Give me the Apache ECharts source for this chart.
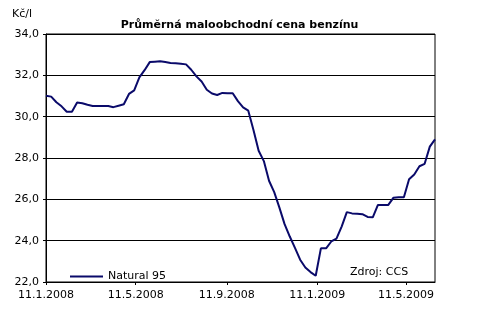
<!DOCTYPE html>
<html><head><meta charset="utf-8">
<script src="https://cdn.jsdelivr.net/npm/echarts@6/dist/echarts.min.js"></script>
<style>html,body{margin:0;padding:0;background:#fff}#c{width:479px;height:314px}</style>
</head><body><div id="c"></div>
<script>
// Weekly series starting 11.1.2008
const startDate = '2008-01-11';
const endDate = '2009-06-19';
const natural95 = [
  31.01, 30.97, 30.70, 30.50, 30.24, 30.24, 30.68, 30.65, 30.58, 30.52,
  30.52, 30.52, 30.52, 30.46, 30.53, 30.60, 31.10, 31.27, 31.90, 32.25,
  32.64, 32.66, 32.68, 32.64, 32.60, 32.58, 32.56, 32.53, 32.27, 31.95,
  31.70, 31.30, 31.12, 31.05, 31.15, 31.13, 31.13, 30.75, 30.45, 30.29,
  29.35, 28.35, 27.85, 26.90, 26.35, 25.60, 24.80, 24.20, 23.65, 23.08,
  22.70, 22.48, 22.30, 23.63, 23.63, 23.96, 24.10, 24.68, 25.38, 25.32,
  25.30, 25.28, 25.15, 25.13, 25.73, 25.73, 25.73, 26.08, 26.10, 26.10,
  26.97, 27.20, 27.60, 27.72, 28.55, 28.90
];
const xTickDates = ['2008-01-11', '2008-05-11', '2008-09-11', '2009-01-11', '2009-05-11'];
const xTickLabels = ['11.1.2008', '11.5.2008', '11.9.2008', '11.1.2009', '11.5.2009'];
const seriesName = 'Natural 95';
const titleText = 'Průměrná maloobchodní cena benzínu';
const unitText = 'Kč/l';
const sourceText = 'Zdroj: CCS';

const DAY = 86400000;
const t0 = Date.parse(startDate + 'T00:00:00Z');
const dayOf = d => Math.round((Date.parse(d + 'T00:00:00Z') - t0) / DAY);
const dEnd = dayOf(endDate);
const data = natural95.map((v, i) => [i * 7, v]);
const tickVals = xTickDates.map(dayOf);
const labelMap = {};
tickVals.forEach((t, i) => labelMap[t] = xTickLabels[i]);

const font = 'DejaVu Sans';
const chart = echarts.init(document.getElementById('c'), null, {renderer: 'canvas'});
chart.setOption({
  animation: false,
  backgroundColor: '#fff',
  title: {
    text: titleText, left: 'center', top: 15,
    textStyle: {fontFamily: font, fontSize: 11, fontWeight: 'bold', color: '#000'}
  },
  graphic: [
    {type: 'text', left: 12, top: 9, style: {text: unitText, fontFamily: font, fontSize: 11, fill: '#000'}},
    {type: 'text', left: 350, top: 267, style: {text: sourceText, fontFamily: font, fontSize: 11, fill: '#000'}}
  ],
  legend: {
    left: 65, top: 266, itemWidth: 33, itemHeight: 10, itemGap: 0,
    data: [{name: seriesName, icon: 'path://M0,4L33,4L33,6L0,6Z'}],
    textStyle: {fontFamily: font, fontSize: 11, color: '#000'}
  },
  grid: {left: 46, top: 34, right: 44, bottom: 32, show: true, borderColor: '#000', borderWidth: 1, backgroundColor: 'transparent'},
  xAxis: {
    type: 'value', min: 0, max: dEnd,
    axisLine: {show: true, onZero: false, lineStyle: {color: '#000', width: 1}},
    axisTick: {show: true, length: 3, lineStyle: {color: '#000'}, customValues: tickVals},
    axisLabel: {
      customValues: tickVals, fontFamily: font, fontSize: 11, color: '#000', margin: 8,
      formatter: v => labelMap[v] || ''
    },
    splitLine: {show: false}
  },
  yAxis: {
    type: 'value', min: 22, max: 34, interval: 2,
    axisLine: {show: true, lineStyle: {color: '#000', width: 1}},
    axisTick: {show: true, length: 3, lineStyle: {color: '#000'}},
    axisLabel: {fontFamily: font, fontSize: 11, color: '#000', margin: 7,
      formatter: v => v.toFixed(1).replace('.', ',')},
    splitLine: {show: true, lineStyle: {color: '#000', width: 1}}
  },
  series: [{
    name: seriesName, type: 'line', data: data, symbol: 'none', smooth: false,
    lineStyle: {color: '#0a0a6a', width: 2}, itemStyle: {color: '#0a0a6a'}
  }]
});
</script></body></html>
